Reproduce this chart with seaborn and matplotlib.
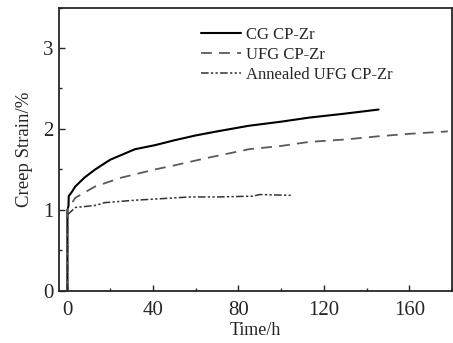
import numpy as np
import pandas as pd
import matplotlib
matplotlib.use('Agg')
import matplotlib.pyplot as plt
import seaborn as sns
from matplotlib.ticker import MultipleLocator

# creep curves (time in h, strain in %)
cg_time = [0, 0, 0.5, 0.6, 2, 3.7, 8, 13, 20, 31.6, 41, 50, 60, 70, 85, 100, 113, 130, 145.6]
cg_strain = [0, 1.0, 1.05, 1.17, 1.22, 1.29, 1.40, 1.50, 1.62, 1.75, 1.80, 1.86, 1.92, 1.97, 2.04, 2.09, 2.14, 2.19, 2.24]

ufg_time = [0, 0, 3.7, 13, 25.4, 41, 50, 65, 85, 100, 113, 130, 145.6, 160, 178]
ufg_strain = [0, 1.0, 1.15, 1.29, 1.40, 1.50, 1.55, 1.64, 1.75, 1.79, 1.84, 1.87, 1.91, 1.94, 1.97]

ann_time = [0, 0, 3.7, 13, 17.5, 31.6, 48, 57, 70, 86.7, 90, 104.5]
ann_strain = [0, 0.94, 1.03, 1.055, 1.09, 1.12, 1.145, 1.16, 1.16, 1.17, 1.19, 1.18]

labels = ['CG CP-Zr', 'UFG CP-Zr', 'Annealed UFG CP-Zr']

df = pd.concat([
    pd.DataFrame({'time': cg_time, 'strain': cg_strain, 'sample': labels[0]}),
    pd.DataFrame({'time': ufg_time, 'strain': ufg_strain, 'sample': labels[1]}),
    pd.DataFrame({'time': ann_time, 'strain': ann_strain, 'sample': labels[2]}),
], ignore_index=True)

sns.set_style('ticks')
plt.rcParams['font.family'] = ['Liberation Serif', 'DejaVu Serif']
plt.rcParams['xtick.direction'] = 'in'
plt.rcParams['ytick.direction'] = 'in'

fig = plt.figure(figsize=(4.53, 3.43), dpi=100)
ax = fig.add_axes([0.130, 0.152, 0.868, 0.826])

styles = {
    labels[0]: dict(color='black', ls='-', lw=1.5),
    labels[1]: dict(color='#5a5a5a', ls=(0, (6, 4)), lw=1.3),
    labels[2]: dict(color='#333333', ls=(0, (5, 1.5, 1.5, 1.5, 1.5, 1.5)), lw=1.1),
}
for name in labels:
    sub = df[df['sample'] == name]
    sns.lineplot(data=sub, x='time', y='strain', ax=ax, label=name,
                 estimator=None, sort=False, **styles[name])

ax.set_xlim(-4, 180)
ax.set_ylim(0, 3.5)
ax.xaxis.set_major_locator(MultipleLocator(40))
ax.xaxis.set_minor_locator(MultipleLocator(20))
ax.yaxis.set_major_locator(MultipleLocator(1))
ax.yaxis.set_minor_locator(MultipleLocator(0.5))
ax.tick_params(which='major', length=4, width=1, labelsize=15)
ax.tick_params(axis='x', which='major', pad=7)
ax.tick_params(axis='y', which='major', pad=4)
ax.tick_params(which='minor', length=2.5, width=1)
for s in ax.spines.values():
    s.set_linewidth(1.3)

ax.set_xlabel('Time/h', fontsize=13, labelpad=2)
ax.set_ylabel('Creep Strain/%', fontsize=13.5, labelpad=7)

ax.legend(loc='upper left', bbox_to_anchor=(0.345, 0.955), frameon=False, fontsize=12,
          handlelength=2.4, handletextpad=0.3, labelspacing=0.25, borderaxespad=0)

fig.savefig('out.png', dpi=100)
